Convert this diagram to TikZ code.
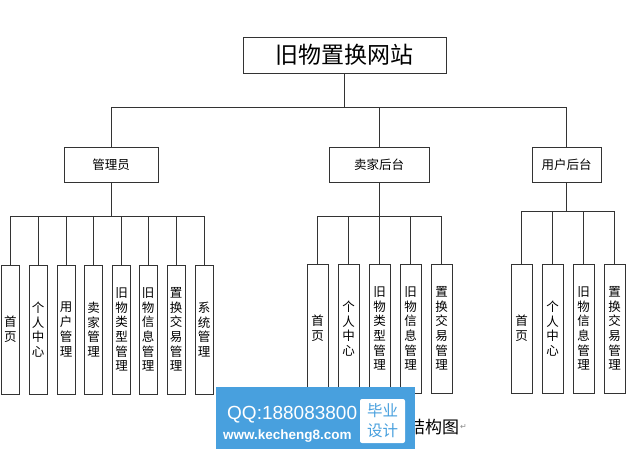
\documentclass[tikz,border=0pt]{standalone}
\usepackage{fontspec}
\newfontfamily\cjk{Noto Sans CJK SC}
\newfontfamily\wmfont{Liberation Sans}
\newfontfamily\symfont{DejaVu Sans}
\usepackage{tikz}
\usetikzlibrary{positioning}
\definecolor{wmblue}{RGB}{72,160,222}
\tikzset{
	box/.style={draw=black!80, line width=0.9pt, fill=white, inner sep=0pt},
	topbox/.style={box, minimum width=203pt, minimum height=36pt,
		font=\cjk\fontsize{23}{26}\selectfont},
	midbox/.style={box, minimum height=35pt, font=\cjk\fontsize{12.5}{14}\selectfont},
	leafbox/.style={box, minimum width=18pt, minimum height=129pt, align=center,
		font=\cjk\fontsize{12.5}{14.7}\selectfont},
	leafboxw/.style={leafbox, minimum width=21pt},
	link/.style={draw=black!80, line width=0.9pt},
	%	watermark/.style={fill=wmblue},
}
\begin{document}
\begin{tikzpicture}[x=1pt,y=-1pt]
\useasboundingbox (0,0) rectangle (632,454);

\node[topbox] (title) at (344.5,55) {旧物置换网站};

\node[midbox, minimum width=94pt] (admin) at (111,164.5) {管理员};
\node[midbox, minimum width=100pt] (seller) at (379,164.5) {卖家后台};
\node[midbox, minimum width=69pt] (user) at (566.5,164.5) {用户后台};

\foreach \n in {admin,seller,user}
	\draw[link] (title.south) -- ++(0,34) -| (\n.north);

% admin
\node[leafbox] (a1) at (10.5,329.5) {首\\页};
\node[leafbox] (a2) at (38,329.5) {个\\人\\中\\心};
\node[leafbox] (a3) at (66,329.5) {用\\户\\管\\理};
\node[leafbox] (a4) at (93.5,329.5) {卖\\家\\管\\理};
\node[leafbox] (a5) at (121.5,329.5) {旧\\物\\类\\型\\管\\理};
\node[leafbox] (a6) at (148,329.5) {旧\\物\\信\\息\\管\\理};
\node[leafbox] (a7) at (176,329.5) {置\\换\\交\\易\\管\\理};
\node[leafbox] (a8) at (204,329.5) {系\\统\\管\\理};
\foreach \i in {1,...,8}
	\draw[link] (admin.south) -- ++(0,34) -| (a\i.north);

% seller
\node[leafboxw] (s1) at (317.5,328.5) {首\\页};
\node[leafboxw] (s2) at (348.5,328.5) {个\\人\\中\\心};
\node[leafboxw] (s3) at (379.5,328.5) {旧\\物\\类\\型\\管\\理};
\node[leafboxw] (s4) at (410.5,328.5) {旧\\物\\信\\息\\管\\理};
\node[leafboxw] (s5) at (441.5,328.5) {置\\换\\交\\易\\管\\理};
\foreach \i in {1,...,5}
	\draw[link] (seller.south) -- ++(0,34) -| (s\i.north);

% user
\node[leafboxw] (u1) at (521.5,328.5) {首\\页};
\node[leafboxw] (u2) at (552.5,328.5) {个\\人\\中\\心};
\node[leafboxw] (u3) at (583.5,328.5) {旧\\物\\信\\息\\管\\理};
\node[leafboxw] (u4) at (614.5,328.5) {置\\换\\交\\易\\管\\理};
\foreach \i in {1,...,4}
	\draw[link] (user.south) -- ++(0,29.5) -| (u\i.north);

% caption and watermark
\node[anchor=west, inner sep=0pt, font=\cjk\fontsize{17}{20}\selectfont] (cap) at (408,427) {结构图};
\node[anchor=west, inner sep=0.5pt, text=black!45, font=\symfont\fontsize{8}{9}\selectfont] (ret) at (cap.east) {↵};
\node[fill=wmblue, minimum width=199pt, minimum height=62pt, inner sep=0pt] (mark) at (315.5,418) {};
\node[anchor=base west, inner sep=0pt, text=white, font=\wmfont\fontsize{19}{22}\selectfont] (qq) at (227,419) {QQ:188083800};
\node[anchor=base west, inner sep=0pt, text=white, font=\wmfont\bfseries\fontsize{13.5}{16}\selectfont] (web) at (223,439) {www.kecheng8.com};
\node[fill=white, rounded corners=2pt, minimum width=45pt, minimum height=44pt, inner sep=0pt, align=center,
	text=wmblue, font=\cjk\fontsize{15.5}{20}\selectfont] (bysj) at (382.5,421) {毕业\\设计};

\end{tikzpicture}
\end{document}
